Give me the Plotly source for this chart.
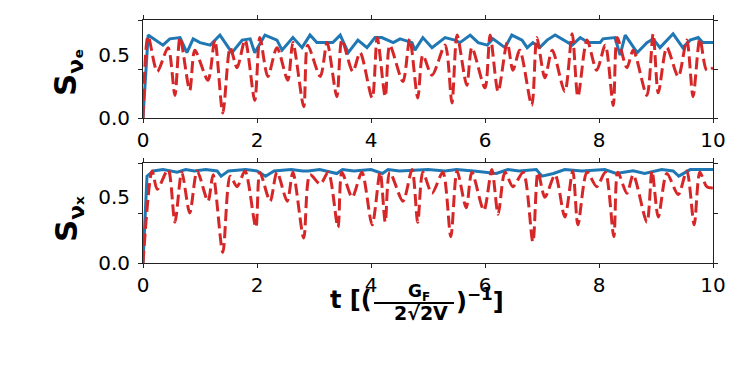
import plotly.graph_objects as go

# top panel: S_nu_e
t_e_solid = [0, 0.09, 0.35, 0.47, 0.65, 0.77, 0.88, 1.00, 1.18, 1.35, 1.56, 1.74, 1.88, 1.96, 2.14, 2.35, 2.44,
             2.63, 2.79, 2.93, 3.05, 3.19, 3.33, 3.46, 3.60, 3.77, 3.93, 4.07, 4.19, 4.39, 4.51, 4.72, 4.77, 4.91,
             5.07, 5.30, 5.47, 5.56, 5.74, 5.88, 6.04, 6.14, 6.35, 6.47, 6.65, 6.74, 6.84, 6.96, 7.09, 7.23, 7.37,
             7.53, 7.67, 7.81, 8.02, 8.07, 8.28, 8.37, 8.46, 8.67, 8.84, 8.95, 9.07, 9.30, 9.47, 9.60, 9.74, 9.82, 10.0]
s_e_solid = [0, 0.66, 0.58, 0.63, 0.64, 0.52, 0.63, 0.60, 0.58, 0.66, 0.52, 0.62, 0.63, 0.52, 0.66, 0.62, 0.54,
             0.64, 0.56, 0.66, 0.60, 0.60, 0.60, 0.66, 0.52, 0.62, 0.56, 0.64, 0.64, 0.60, 0.63, 0.60, 0.54, 0.64,
             0.56, 0.64, 0.62, 0.60, 0.66, 0.60, 0.58, 0.63, 0.56, 0.66, 0.62, 0.56, 0.60, 0.56, 0.62, 0.66, 0.62,
             0.58, 0.64, 0.60, 0.60, 0.63, 0.64, 0.50, 0.66, 0.52, 0.60, 0.63, 0.56, 0.67, 0.56, 0.62, 0.64, 0.60, 0.60]

t_e_dash = [0, 0.09, 0.25, 0.44, 0.56, 0.65, 0.82, 0.91, 1.14, 1.26, 1.40, 1.53, 1.65, 1.79, 1.96, 2.05, 2.19,
            2.35, 2.54, 2.63, 2.82, 2.89, 3.11, 3.23, 3.40, 3.49, 3.68, 3.81, 4.02, 4.11, 4.25, 4.33, 4.56, 4.68,
            4.82, 4.91, 5.07, 5.30, 5.42, 5.51, 5.68, 5.77, 6.00, 6.09, 6.23, 6.39, 6.49, 6.61, 6.82, 6.91, 7.05,
            7.18, 7.40, 7.53, 7.63, 7.79, 7.96, 8.11, 8.25, 8.32, 8.49, 8.60, 8.84, 8.95, 9.04, 9.19, 9.39, 9.54,
            9.65, 9.77, 9.89, 10.0]
s_e_dash = [0, 0.65, 0.37, 0.56, 0.18, 0.64, 0.22, 0.54, 0.30, 0.62, 0.04, 0.56, 0.40, 0.62, 0.14, 0.64, 0.33,
            0.56, 0.30, 0.60, 0.09, 0.58, 0.33, 0.60, 0.17, 0.62, 0.37, 0.52, 0.16, 0.64, 0.17, 0.58, 0.29, 0.63,
            0.16, 0.50, 0.34, 0.58, 0.12, 0.66, 0.26, 0.56, 0.24, 0.66, 0.21, 0.60, 0.38, 0.54, 0.10, 0.64, 0.32,
            0.54, 0.21, 0.67, 0.17, 0.62, 0.38, 0.58, 0.10, 0.64, 0.40, 0.54, 0.18, 0.67, 0.20, 0.56, 0.33, 0.62,
            0.17, 0.63, 0.38, 0.40]

# bottom panel: S_nu_x
t_x_solid = [0, 0.07, 0.18, 0.35, 0.6, 0.75, 0.9, 1.1, 1.3, 1.37, 1.5, 1.8, 2.0, 2.15, 2.3, 2.6, 2.8, 2.9, 3.1,
             3.4, 3.5, 3.7, 4.0, 4.2, 4.3, 4.5, 5.0, 5.3, 5.5, 5.8, 6.2, 6.4, 6.6, 6.9, 7.0, 7.2, 7.4, 7.7, 8.1,
             8.3, 8.6, 8.8, 9.1, 9.3, 9.4, 9.6, 10.0]
s_x_solid = [0, 0.66, 0.70, 0.71, 0.69, 0.71, 0.70, 0.71, 0.70, 0.66, 0.70, 0.71, 0.70, 0.66, 0.70, 0.71, 0.70,
             0.70, 0.71, 0.68, 0.71, 0.70, 0.71, 0.68, 0.71, 0.70, 0.71, 0.70, 0.71, 0.70, 0.68, 0.71, 0.70, 0.71,
             0.66, 0.68, 0.71, 0.70, 0.71, 0.68, 0.70, 0.68, 0.71, 0.70, 0.66, 0.71, 0.71]

t_x_dash = [0, 0.16, 0.25, 0.44, 0.56, 0.68, 0.82, 0.95, 1.14, 1.23, 1.40, 1.53, 1.65, 1.79, 1.98, 2.05, 2.23,
            2.35, 2.53, 2.63, 2.82, 2.93, 3.11, 3.25, 3.42, 3.49, 3.67, 3.84, 4.02, 4.16, 4.25, 4.33, 4.56, 4.72,
            4.82, 4.91, 5.07, 5.26, 5.40, 5.51, 5.67, 5.77, 5.98, 6.12, 6.23, 6.35, 6.49, 6.67, 6.84, 6.93, 7.05,
            7.23, 7.40, 7.54, 7.63, 7.79, 7.96, 8.11, 8.26, 8.33, 8.49, 8.60, 8.84, 8.93, 9.04, 9.19, 9.39, 9.54,
            9.67, 9.77, 9.89, 10.0]
s_x_dash = [0, 0.70, 0.56, 0.71, 0.31, 0.69, 0.38, 0.70, 0.47, 0.67, 0.08, 0.66, 0.58, 0.70, 0.27, 0.69, 0.47,
            0.69, 0.47, 0.69, 0.19, 0.67, 0.60, 0.69, 0.27, 0.69, 0.50, 0.69, 0.29, 0.69, 0.31, 0.69, 0.47, 0.71,
            0.31, 0.69, 0.53, 0.69, 0.20, 0.70, 0.42, 0.69, 0.40, 0.71, 0.37, 0.69, 0.58, 0.69, 0.16, 0.69, 0.50,
            0.67, 0.35, 0.70, 0.29, 0.69, 0.58, 0.69, 0.20, 0.69, 0.53, 0.67, 0.31, 0.70, 0.35, 0.68, 0.52, 0.70,
            0.29, 0.69, 0.58, 0.57]

W, H = 747, 366
OFF = 8  # the page body adds an 8px margin around the figure
BLUE = '#1f77b4'
RED = '#d62728'
FONT = 'DejaVu Sans'


def px(x):
    return (x - OFF) / W


def py(y):
    return 1 - (y - OFF) / H


fig = go.Figure()
fig.add_trace(go.Scatter(x=t_e_solid, y=s_e_solid, mode='lines', line=dict(color=BLUE, width=3),
                         xaxis='x', yaxis='y'))
fig.add_trace(go.Scatter(x=t_e_dash, y=s_e_dash, mode='lines',
                         line=dict(color=RED, width=3, dash='12px,5px', shape='spline', smoothing=0.8),
                         xaxis='x', yaxis='y'))
fig.add_trace(go.Scatter(x=t_x_solid, y=s_x_solid, mode='lines', line=dict(color=BLUE, width=3),
                         xaxis='x2', yaxis='y2'))
fig.add_trace(go.Scatter(x=t_x_dash, y=s_x_dash, mode='lines',
                         line=dict(color=RED, width=3, dash='12px,5px', shape='spline', smoothing=0.8),
                         xaxis='x2', yaxis='y2'))

xstyle = dict(range=[0, 10], tickvals=[0, 2, 4, 6, 8, 10], ticks='outside', ticklen=4, tickcolor='#222',
              showline=True, linecolor='#222', linewidth=1, mirror='ticks', showgrid=False, zeroline=False,
              automargin=False,
              tickfont=dict(size=20, color='black', family=FONT), domain=[px(143), px(713)])


def ystyle(top, dom):
    return dict(range=[0, top], tickvals=[0, 0.5], ticktext=['0.0', '0.5'], ticks='',
                minor=dict(tickvals=[0, top / 2, top], ticks='outside', ticklen=4, tickcolor='#222'),
                showline=True, linecolor='#222', linewidth=1, mirror='ticks', showgrid=False, zeroline=False,
                automargin=False,
                tickfont=dict(size=20, color='black', family=FONT), ticklabelstandoff=8, domain=dom)


fig.update_layout(
    width=W, height=H, margin=dict(l=0, r=0, t=0, b=0, pad=0, autoexpand=False),
    paper_bgcolor='white', plot_bgcolor='white', showlegend=False,
    font=dict(family=FONT, color='black'),
    xaxis=dict(xstyle, anchor='y'),
    xaxis2=dict(xstyle, anchor='y2'),
    yaxis=dict(ystyle(0.78, [py(118), py(20)]), anchor='x'),
    yaxis2=dict(ystyle(0.76, [py(263), py(163)]), anchor='x2'),
)

# y axis titles
fig.add_annotation(text='<b>S<sub>νₑ</sub></b>', x=px(68), y=py(72), xref='paper', yref='paper',
                   xanchor='center', yanchor='middle',
                   textangle=-90, showarrow=False, font=dict(size=31, family=FONT))
fig.add_annotation(text='<b>S<sub>νₓ</sub></b>', x=px(68), y=py(219), xref='paper', yref='paper',
                   xanchor='center', yanchor='middle',
                   textangle=-90, showarrow=False, font=dict(size=31, family=FONT))

# x axis title: t [(G_F / 2√2V)^-1]
fig.add_annotation(text='<b>t [(</b>', x=px(374), y=py(300), xref='paper', yref='paper',
                   xanchor='right', yanchor='middle', showarrow=False, font=dict(size=24, family=FONT))
fig.add_annotation(text='<b>G<sub>F</sub></b>', x=px(419), y=py(292), xref='paper', yref='paper',
                   xanchor='center', yanchor='middle', showarrow=False, font=dict(size=17, family=FONT))
fig.add_annotation(text='<b>2√2V</b>', x=px(421), y=py(313), xref='paper', yref='paper',
                   xanchor='center', yanchor='middle', showarrow=False, font=dict(size=19, family=FONT))
fig.add_annotation(text='<b>)<sup>−1</sup>]</b>', x=px(454), y=py(300), xref='paper', yref='paper',
                   xanchor='left', yanchor='middle', showarrow=False, font=dict(size=24, family=FONT))
fig.add_shape(type='line', xref='paper', yref='paper', x0=px(374), x1=px(454), y0=py(303), y1=py(303),
              line=dict(color='black', width=2))

fig.write_html("out.html")
